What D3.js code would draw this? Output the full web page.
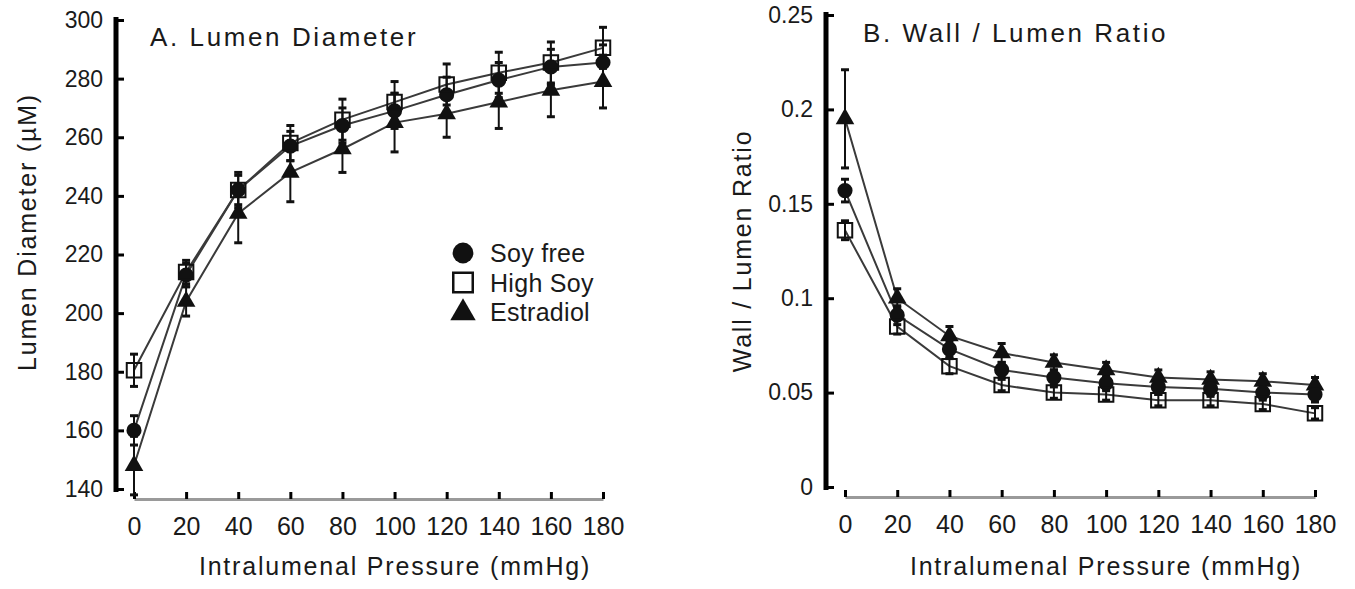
<!DOCTYPE html>
<html>
<head>
<meta charset="utf-8">
<script src="https://cdn.jsdelivr.net/npm/d3@7"></script>
<style>
  body { margin: 0; background: #fff; }
  svg text { font-family: "Liberation Sans", Arial, sans-serif; fill: #1a1a1a; }
</style>
</head>
<body>
<div id="chart"></div>
<script>
const pressure = [0, 20, 40, 60, 80, 100, 120, 140, 160, 180];

const diamSoyFree = [160, 213, 242, 257, 264, 269, 274.5, 279.5, 284, 285.5];
const diamSoyFreeErr = [5, 4, 5, 5, 6, 6, 6, 6, 6, 6];
const diamHighSoy = [180.5, 214, 242, 258, 266, 272, 278, 282, 285.5, 290.5];
const diamHighSoyErr = [5.5, 4, 6, 6, 7, 7, 7, 7, 7, 7];
const diamEstradiol = [148, 204, 234, 248, 256, 265, 268, 272, 276, 279];
const diamEstradiolErr = [10, 5, 10, 10, 8, 10, 8, 9, 9, 9];

const ratioSoyFree = [0.157, 0.091, 0.073, 0.062, 0.058, 0.055, 0.053, 0.052, 0.050, 0.049];
const ratioSoyFreeErr = [0.006, 0.005, 0.004, 0.004, 0.004, 0.004, 0.004, 0.004, 0.004, 0.004];
const ratioHighSoy = [0.136, 0.085, 0.064, 0.054, 0.050, 0.049, 0.046, 0.046, 0.044, 0.039];
const ratioHighSoyErr = [0.005, 0.004, 0.004, 0.003, 0.003, 0.003, 0.003, 0.003, 0.003, 0.003];
const ratioEstradiol = [0.195, 0.100, 0.080, 0.071, 0.066, 0.062, 0.058, 0.057, 0.056, 0.054];
const ratioEstradiolErr = [0.026, 0.005, 0.005, 0.005, 0.004, 0.004, 0.004, 0.004, 0.004, 0.004];

const diamTicks = [140, 160, 180, 200, 220, 240, 260, 280, 300];
const ratioTicks = [0, 0.05, 0.1, 0.15, 0.2, 0.25];
const groups = ["Soy free", "High Soy", "Estradiol"];

const svgWidth = 1355;
const svgHeight = 589;
let svg = d3.select("#chart").append("svg").attr("width", svgWidth).attr("height", svgHeight);

let marker = [
  { type: d3.symbolCircle, size: 180, fill: "#111", stroke: "none" },
  { type: d3.symbolSquare, size: 210, fill: "none", stroke: "#111" },
  { type: d3.symbolTriangle, size: 150, fill: "#111", stroke: "none" }
];

let drawPanel = (p) => {
  let x = d3.scaleLinear().domain([0, 180]).range(p.xRange);
  let y = d3.scaleLinear().domain(p.yDomain).range(p.yRange);

  let yAxis = svg.append("g")
    .attr("transform", `translate(${p.yAxisX}, 0)`)
    .call(d3.axisLeft(y).tickValues(p.yTicks).tickFormat(d => String(d))
      .tickSizeInner(-8).tickSizeOuter(0).tickPadding(13));
  yAxis.select(".domain").attr("stroke", "#000").attr("stroke-width", 5)
    .attr("d", `M0,${p.yRange[0] + 3}V${p.yRange[1] - 3}`);
  yAxis.selectAll(".tick line").attr("stroke", "#000").attr("stroke-width", 3);
  yAxis.selectAll(".tick text").attr("font-size", 23).attr("fill", "#222");

  let xAxis = svg.append("g")
    .attr("transform", `translate(0, ${p.xAxisY})`)
    .call(d3.axisBottom(x).tickValues(pressure).tickSizeInner(-7).tickSizeOuter(0).tickPadding(18));
  xAxis.select(".domain").attr("stroke", "#9a9a9a").attr("stroke-width", 3);
  xAxis.selectAll(".tick line").attr("stroke", "#000").attr("stroke-width", 3);
  xAxis.selectAll(".tick text").attr("font-size", 25).attr("fill", "#222");

  let line = d3.line().x((d, i) => x(pressure[i])).y(d => y(d));
  p.series.forEach(s => {
    svg.append("path").datum(s.values)
      .attr("fill", "none").attr("stroke", "#3a3a3a").attr("stroke-width", 2)
      .attr("d", line);
  });

  p.series.forEach(s => {
    let eb = svg.append("g").attr("stroke", "#111");
    s.values.forEach((v, i) => {
      let cx = x(pressure[i]);
      let top = y(v + s.err[i]);
      let bot = y(v - s.err[i]);
      eb.append("line").attr("x1", cx).attr("x2", cx).attr("y1", top).attr("y2", bot).attr("stroke-width", 2);
      eb.append("line").attr("x1", cx - 4).attr("x2", cx + 4).attr("y1", top).attr("y2", top).attr("stroke-width", 3);
      eb.append("line").attr("x1", cx - 4).attr("x2", cx + 4).attr("y1", bot).attr("y2", bot).attr("stroke-width", 3);
    });
  });

  [2, 0, 1].forEach(k => {
    let s = p.series[k];
    let m = marker[k];
    svg.append("g").selectAll("path")
      .data(s.values)
      .enter()
      .append("path")
      .attr("transform", (d, i) => `translate(${x(pressure[i])}, ${y(d)})`)
      .attr("d", d3.symbol().type(m.type).size(m.size))
      .attr("fill", m.fill)
      .attr("stroke", m.stroke)
      .attr("stroke-width", 2);
  });

  svg.append("text")
    .attr("x", p.titleX).attr("y", p.titleY)
    .attr("font-size", 26).attr("letter-spacing", 2.6)
    .text(p.title);

  svg.append("text")
    .attr("x", p.xLabelX).attr("y", 575)
    .attr("text-anchor", "middle")
    .attr("font-size", 25).attr("letter-spacing", 1.8).attr("fill", "#333")
    .text("Intralumenal Pressure (mmHg)");

  svg.append("text")
    .attr("transform", `translate(${p.yLabelX}, ${p.yLabelY}) rotate(-90)`)
    .attr("text-anchor", "middle")
    .attr("font-size", 25).attr("letter-spacing", 1.8).attr("fill", "#333")
    .text(p.yLabel);
};

drawPanel({
  xRange: [134, 603], yDomain: [140, 300], yRange: [489, 20],
  yAxisX: 116, xAxisY: 499, yTicks: diamTicks,
  series: [
    { values: diamSoyFree, err: diamSoyFreeErr },
    { values: diamHighSoy, err: diamHighSoyErr },
    { values: diamEstradiol, err: diamEstradiolErr }
  ],
  title: "A. Lumen Diameter", titleX: 150, titleY: 46,
  xLabelX: 395, yLabel: "Lumen Diameter (µM)", yLabelX: 36, yLabelY: 232
});

drawPanel({
  xRange: [845, 1315], yDomain: [0, 0.25], yRange: [487, 15],
  yAxisX: 826, xAxisY: 497, yTicks: ratioTicks,
  series: [
    { values: ratioSoyFree, err: ratioSoyFreeErr },
    { values: ratioHighSoy, err: ratioHighSoyErr },
    { values: ratioEstradiol, err: ratioEstradiolErr }
  ],
  title: "B. Wall / Lumen Ratio", titleX: 863, titleY: 42,
  xLabelX: 1106, yLabel: "Wall / Lumen Ratio", yLabelX: 751, yLabelY: 251
});

let legendMarker = [
  { type: d3.symbolCircle, size: 340, fill: "#111", stroke: "none" },
  { type: d3.symbolSquare, size: 380, fill: "none", stroke: "#111" },
  { type: d3.symbolTriangle, size: 280, fill: "#111", stroke: "none" }
];
let lgd = svg.append("g").attr("transform", "translate(463, 253)");
groups.forEach((g, i) => {
  let m = legendMarker[i];
  lgd.append("path")
    .attr("transform", `translate(0, ${i * 29.5 + (i == 2 ? 1 : 0)})`)
    .attr("d", d3.symbol().type(m.type).size(m.size))
    .attr("fill", m.fill).attr("stroke", m.stroke).attr("stroke-width", 2.5);
  lgd.append("text")
    .attr("x", 27).attr("y", i * 29.5 + 9)
    .attr("font-size", 25).attr("letter-spacing", 0.3)
    .text(g);
});
</script>
</body>
</html>
